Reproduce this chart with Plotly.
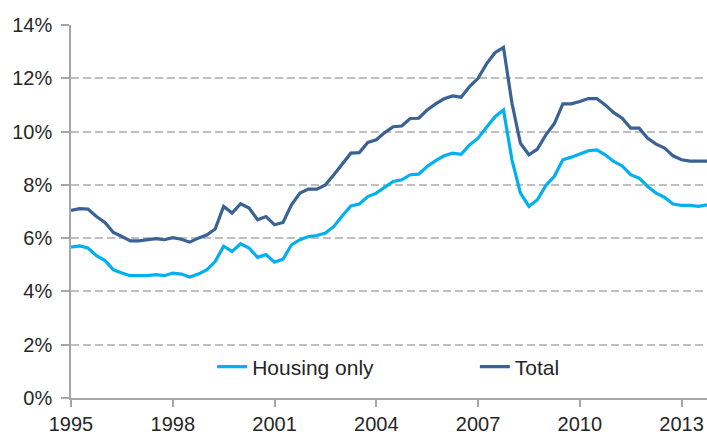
import plotly.graph_objects as go

start_year = 1995
quarters = list(range(76))  # 1995Q1 .. 2013Q4

housing_only = [
    5.66, 5.71, 5.63, 5.34, 5.16, 4.81, 4.69, 4.59, 4.59, 4.59,
    4.63, 4.59, 4.69, 4.65, 4.54, 4.65, 4.81, 5.12, 5.70, 5.50,
    5.79, 5.63, 5.28, 5.38, 5.10, 5.21, 5.75, 5.94, 6.06, 6.10,
    6.19, 6.44, 6.84, 7.21, 7.28, 7.56, 7.69, 7.91, 8.13, 8.19,
    8.38, 8.40, 8.69, 8.91, 9.09, 9.19, 9.15, 9.50, 9.75, 10.16,
    10.56, 10.81, 8.94, 7.69, 7.19, 7.44, 7.98, 8.32, 8.94, 9.04,
    9.16, 9.28, 9.31, 9.13, 8.88, 8.71, 8.38, 8.25, 7.94, 7.69,
    7.53, 7.28, 7.23, 7.23, 7.19, 7.25,
]

total = [
    7.04, 7.11, 7.09, 6.81, 6.59, 6.21, 6.06, 5.90, 5.90, 5.94,
    5.98, 5.94, 6.02, 5.96, 5.85, 6.00, 6.12, 6.34, 7.19, 6.94,
    7.29, 7.13, 6.69, 6.81, 6.50, 6.59, 7.25, 7.69, 7.84, 7.84,
    8.00, 8.38, 8.79, 9.19, 9.21, 9.59, 9.69, 9.96, 10.18, 10.21,
    10.49, 10.50, 10.81, 11.04, 11.23, 11.34, 11.29, 11.69, 12.00, 12.54,
    12.96, 13.16, 11.06, 9.56, 9.13, 9.34, 9.88, 10.30, 11.04, 11.04,
    11.13, 11.24, 11.24, 11.00, 10.71, 10.50, 10.13, 10.13, 9.75, 9.53,
    9.38, 9.09, 8.94, 8.89, 8.89, 8.89,
]

x_ticks = [1995, 1998, 2001, 2004, 2007, 2010, 2013]
y_ticks = [0, 2, 4, 6, 8, 10, 12, 14]

x = [start_year + q / 4 for q in quarters]

fig = go.Figure()
fig.add_trace(go.Scatter(x=x, y=housing_only, mode="lines", name="Housing only",
                         line=dict(color="#00B0F0", width=3.2), legend="legend"))
fig.add_trace(go.Scatter(x=x, y=total, mode="lines", name="Total",
                         line=dict(color="#3A6294", width=3.2), legend="legend2"))

font = "Liberation Sans, Arial, sans-serif"
fs = 20
leg_common = dict(orientation="h", xanchor="left", yanchor="middle",
                  bgcolor="rgba(0,0,0,0)", font=dict(size=21, color="#262626"))
fig.update_layout(
    width=707, height=432,
    margin=dict(l=71, r=0, t=25, b=34),
    paper_bgcolor="white", plot_bgcolor="white",
    font=dict(family=font, size=fs, color="#262626"),
    showlegend=True,
    legend=dict(x=0.222, y=0.083, **leg_common),
    legend2=dict(x=0.635, y=0.083, **leg_common),
    xaxis=dict(range=[1995, 2013.75], tickmode="array", tickvals=x_ticks,
               ticktext=[str(v) for v in x_ticks], automargin=False,
               showgrid=False, zeroline=False, showline=True, linecolor="#A6A6A6",
               linewidth=1.5, ticks="outside", ticklen=7, tickwidth=1.5,
               tickcolor="#A6A6A6", tickfont=dict(size=fs)),
    yaxis=dict(range=[0, 14], tickmode="array", tickvals=y_ticks,
               ticktext=[f"{v}%" for v in y_ticks], automargin=False,
               showgrid=True, gridcolor="#BFBFBF", gridwidth=1.6, griddash="8px,4px",
               zeroline=False, showline=True, linecolor="#A6A6A6", linewidth=1.5,
               ticks="outside", ticklen=8, tickwidth=1.5, tickcolor="#A6A6A6",
               ticklabelstandoff=5, tickfont=dict(size=fs)),
)

fig.write_html("out.html", config={"displayModeBar": False},
               post_script="document.body.style.margin='0';document.body.style.overflow='hidden';")
